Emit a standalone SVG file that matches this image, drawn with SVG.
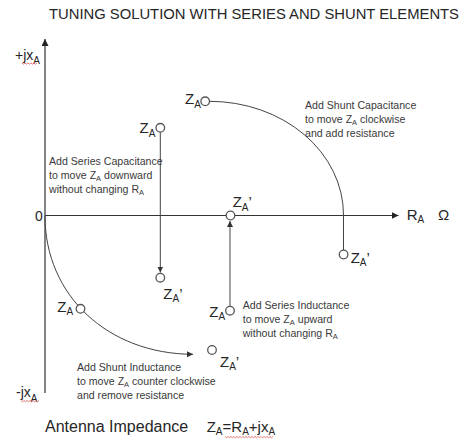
<svg xmlns="http://www.w3.org/2000/svg" width="473" height="442" viewBox="0 0 473 442">
<defs>
<marker id="arr" markerUnits="userSpaceOnUse" markerWidth="8" markerHeight="8" refX="6" refY="3" orient="auto">
<path d="M0,0 L6,3 L0,6 z" fill="#333"/>
</marker>
<marker id="axarr" markerUnits="userSpaceOnUse" markerWidth="9" markerHeight="9" refX="7" refY="3.5" orient="auto">
<path d="M0,0 L7,3.5 L0,7 z" fill="#222"/>
</marker>
<style>
text{font-family:"Liberation Sans",Arial,sans-serif;fill:#262626}
.big{font-size:15px}
.note{font-size:10.6px;fill:#3a3a3a}
.pt{fill:#fff;stroke:#555;stroke-width:1.3}
.axis{stroke:#333;stroke-width:1.2;fill:none}
.conn{stroke:#444;stroke-width:1;fill:none}
.sq{stroke:#e05a5a;stroke-width:0.8;fill:none}
</style>
</defs>
<rect width="473" height="442" fill="#fff"/>
<text x="49" y="19" style="font-size:14.8px">TUNING SOLUTION WITH SERIES AND SHUNT ELEMENTS</text>

<g id="connectors">
<line class="axis" x1="45" y1="393" x2="45" y2="39" marker-end="url(#axarr)"/>
<line class="axis" x1="45" y1="215.5" x2="398.5" y2="215.5" marker-end="url(#axarr)"/>
<line class="conn" x1="160.3" y1="132" x2="160.3" y2="272.5" marker-end="url(#arr)"/>
<line class="conn" x1="230" y1="306.5" x2="230" y2="221" marker-end="url(#arr)"/>
<path class="conn" d="M209.5,101.3 A134,113.7 0 0 1 343.5,215 L343.5,250.2"/>
<path class="conn" d="M45,216 C45,295.4 107.9,354 193,354.3" marker-end="url(#arr)"/>
</g>

<g id="axis-labels">
<text class="big" x="15" y="59.5" style="font-size:14px">+jx<tspan style="font-size:10px" dy="4.5">A</tspan></text>
<path class="sq" d="M22,63 l1.5,1.2 l1.5,-1.2 l1.5,1.2 l1.5,-1.2 l1.5,1.2 l1.5,-1.2 l1.5,1.2 l1.5,-1.2 l1.5,1.2 l1.5,-1.2"/>
<text class="big" x="16" y="396.5" style="font-size:14px">-jx<tspan style="font-size:10px" dy="5">A</tspan></text>
<path class="sq" d="M21,400.5 l1.5,1.2 l1.5,-1.2 l1.5,1.2 l1.5,-1.2 l1.5,1.2 l1.5,-1.2 l1.5,1.2 l1.5,-1.2 l1.5,1.2 l1.5,-1.2 l1.5,1.2 l1.5,-1.2"/>
<text x="35" y="221" style="font-size:14px">0</text>
<text class="big" x="406.7" y="220">R<tspan style="font-size:10px" dy="3">A</tspan></text>
<text class="big" x="438" y="220">Ω</text>
</g>

<g id="node-za-top">
<circle class="pt" cx="205.2" cy="101.3" r="4.3"/>
<text class="big" x="185" y="103.5">Z<tspan style="font-size:10px" dy="4">A</tspan></text>
</g>
<g id="node-za-series-cap">
<circle class="pt" cx="160.3" cy="127.8" r="4.3"/>
<text class="big" x="139.5" y="133.3">Z<tspan style="font-size:10px" dy="3.4">A</tspan></text>
</g>
<g id="node-za-prime-axis">
<circle class="pt" cx="230.5" cy="215.5" r="4.3"/>
<text class="big" x="232.7" y="207.3">Z<tspan style="font-size:10px" dy="3.4">A</tspan><tspan dy="-3.4">’</tspan></text>
</g>
<g id="node-za-prime-right">
<circle class="pt" cx="343.6" cy="254.5" r="4.3"/>
<text class="big" x="350.7" y="263.3">Z<tspan style="font-size:10px" dy="3">A</tspan><tspan dy="-3">’</tspan></text>
</g>
<g id="node-za-prime-mid">
<circle class="pt" cx="160.3" cy="277.7" r="4.3"/>
<text class="big" x="163.3" y="299.3">Z<tspan style="font-size:10px" dy="3">A</tspan><tspan dy="-3">’</tspan></text>
</g>
<g id="node-za-left">
<circle class="pt" cx="80.5" cy="308.8" r="4.3"/>
<text class="big" x="57.3" y="311.7">Z<tspan style="font-size:10px" dy="3">A</tspan></text>
</g>
<g id="node-za-series-ind">
<circle class="pt" cx="230" cy="310.7" r="4.3"/>
<text class="big" x="209.3" y="316.7">Z<tspan style="font-size:10px" dy="3.5">A</tspan></text>
</g>
<g id="node-za-prime-bottom">
<circle class="pt" cx="212" cy="350" r="4.3"/>
<text class="big" x="220" y="367.3">Z<tspan style="font-size:10px" dy="3">A</tspan><tspan dy="-3">’</tspan></text>
</g>

<g id="note-series-cap">
<text class="note" x="49" y="165.3">Add Series Capacitance</text>
<text class="note" x="49" y="179.3">to move Z<tspan style="font-size:7.5px" dy="2">A</tspan><tspan dy="-2"> downward</tspan></text>
<text class="note" x="49" y="193.3">without changing R<tspan style="font-size:7.5px" dy="2">A</tspan></text>
</g>
<g id="note-shunt-cap">
<text class="note" x="305" y="108.7">Add Shunt Capacitance</text>
<text class="note" x="305" y="122.7">to move Z<tspan style="font-size:7.5px" dy="2">A</tspan><tspan dy="-2"> clockwise</tspan></text>
<text class="note" x="305" y="136.7">and add resistance</text>
</g>
<g id="note-shunt-ind">
<text class="note" x="77" y="371">Add Shunt Inductance</text>
<text class="note" x="77" y="385">to move Z<tspan style="font-size:7.5px" dy="2">A</tspan><tspan dy="-2"> counter clockwise</tspan></text>
<text class="note" x="77" y="399">and remove resistance</text>
</g>
<g id="note-series-ind">
<text class="note" x="242.7" y="308.7">Add Series Inductance</text>
<text class="note" x="242.7" y="322.7">to move Z<tspan style="font-size:7.5px" dy="2">A</tspan><tspan dy="-2"> upward</tspan></text>
<text class="note" x="242.7" y="336.7">without changing R<tspan style="font-size:7.5px" dy="2">A</tspan></text>
</g>

<g id="footer">
<text x="45" y="431.7" style="font-size:16px">Antenna Impedance</text>
<text class="big" x="206.7" y="431.7">Z<tspan style="font-size:10px" dy="3">A</tspan><tspan dy="-3">=R</tspan><tspan style="font-size:10px" dy="3">A</tspan><tspan dy="-3">+jx</tspan><tspan style="font-size:10px" dy="3">A</tspan></text>
<path class="sq" d="M225,436.5 l1.5,1.2 l1.5,-1.2 l1.5,1.2 l1.5,-1.2 l1.5,1.2 l1.5,-1.2 l1.5,1.2 l1.5,-1.2 l1.5,1.2 l1.5,-1.2 l1.5,1.2 l1.5,-1.2 l1.5,1.2 l1.5,-1.2 l1.5,1.2 l1.5,-1.2 l1.5,1.2 l1.5,-1.2 l1.5,1.2 l1.5,-1.2 l1.5,1.2 l1.5,-1.2 l1.5,1.2 l1.5,-1.2 l1.5,1.2 l1.5,-1.2 l1.5,1.2 l1.5,-1.2 l1.5,1.2 l1.5,-1.2 l1.5,1.2 l1.5,-1.2"/>
</g>
</svg>
